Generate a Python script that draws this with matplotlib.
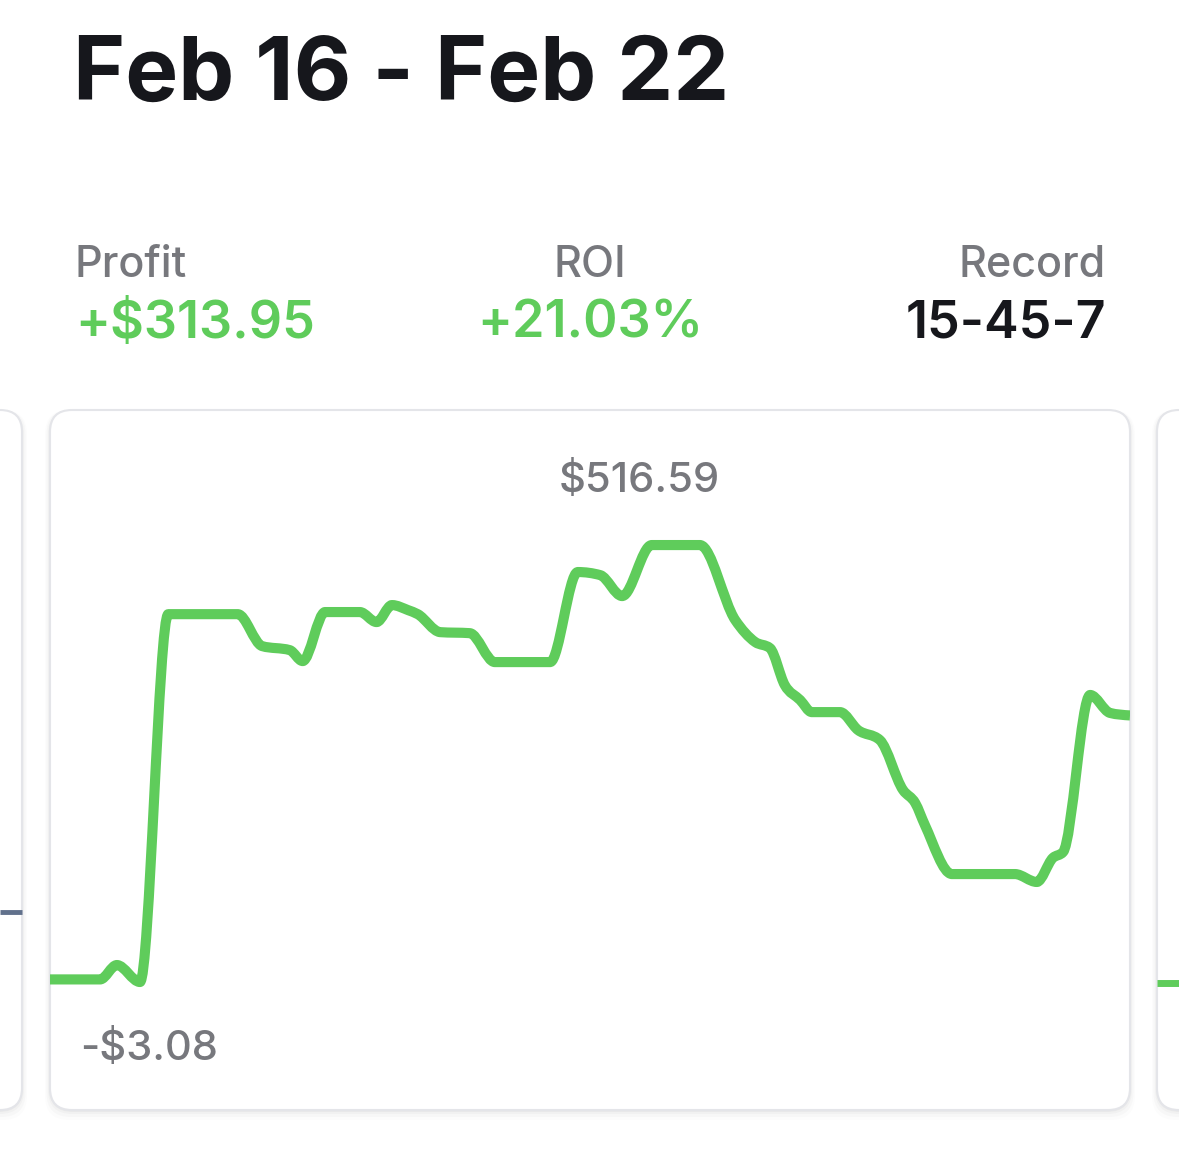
import matplotlib.pyplot as plt
import numpy as np
from matplotlib.path import Path
from matplotlib.patches import FancyBboxPatch, PathPatch

plt.rcParams['font.family'] = ['Inter', 'DejaVu Sans']

# week timeline (hours since Feb 16) and running profit in $
hours = [0, 7.8, 10.4, 14.0, 18.4, 29.2, 33.0, 37.3, 39.3, 42.8, 48.2, 50.8, 53.2,
         55.7, 57.2, 60.7, 65.3, 69.2, 77.8, 82.1, 85.6, 89.0, 93.6, 101.1, 106.6,
         109.7, 112.0, 114.3, 116.7, 118.5, 122.9, 125.7, 129.1, 132.7, 134.6,
         136.1, 140.3, 150.1, 153.5, 156.0, 157.6, 161.8, 164.9, 168]
profit = [0, 0, 17.1, -3.08, 434.4, 434.4, 396.4, 391.6, 378.6, 436.9, 436.9, 425.0,
          445.2, 439.2, 434.4, 413.0, 411.8, 377.4, 377.4, 484.5, 480.8, 455.9, 516.59,
          516.59, 427.3, 401.2, 394.0, 350.0, 332.2, 317.9, 317.9, 296.5, 284.6,
          225.2, 209.7, 183.5, 125.3, 125.3, 115.9, 144.5, 151.6, 338.3, 316.9, 313.95]

title = "Feb 16 - Feb 22"
stat_names = ["Profit", "ROI", "Record"]
stat_values = ["+$313.95", "+21.03%", "15-45-7"]

GREEN = "#5fcc5b"
GRAY = "#77787d"
DARK = "#16171c"


def monotone_path(x, y):
    # monotone cubic (like d3 curveMonotoneX) as bezier segments
    x = np.asarray(x, float)
    y = np.asarray(y, float)
    n = len(x)
    h = np.diff(x)
    s = np.diff(y) / h
    t = np.zeros(n)
    for i in range(1, n - 1):
        p = (s[i - 1] * h[i] + s[i] * h[i - 1]) / (h[i - 1] + h[i])
        t[i] = (np.sign(s[i - 1]) + np.sign(s[i])) * min(abs(s[i - 1]), abs(s[i]), 0.5 * abs(p))
    t[0] = (3 * s[0] - t[1]) / 2 if n > 2 else s[0]
    t[-1] = (3 * s[-1] - t[-2]) / 2 if n > 2 else s[-1]
    verts = [(x[0], y[0])]
    codes = [Path.MOVETO]
    for i in range(n - 1):
        dx = h[i] / 3
        verts += [(x[i] + dx, y[i] + dx * t[i]), (x[i + 1] - dx, y[i + 1] - dx * t[i + 1]),
                  (x[i + 1], y[i + 1])]
        codes += [Path.CURVE4] * 3
    return Path(verts, codes)


W, H = 1179, 1149
fig = plt.figure(figsize=(W / 100, H / 100), dpi=100)
fig.patch.set_facecolor("white")

# background axes in pixel units
bg = fig.add_axes([0, 0, 1, 1])
bg.set_xlim(0, W)
bg.set_ylim(H, 0)
bg.axis("off")


def card(x0, y0, x1, y1):
    for k, a in [(10, 0.012), (7, 0.018), (4, 0.025), (2, 0.03)]:
        bg.add_patch(FancyBboxPatch((x0 - k / 2, y0), x1 - x0 + k, y1 - y0 + k,
                                    boxstyle="round,pad=0,rounding_size=24",
                                    fc="black", ec="none", alpha=a))
    bg.add_patch(FancyBboxPatch((x0, y0), x1 - x0, y1 - y0,
                                boxstyle="round,pad=0,rounding_size=22",
                                fc="white", ec="#e4e5e9", lw=1.5))


card(-1060, 410, 22, 1110)
card(50, 410, 1130, 1110)
card(1157, 410, 2200, 1110)
bg.plot([0, 22], [912, 912], color="#61718c", lw=3.5, solid_capstyle="butt")
bg.plot([1157, 1179], [983, 983], color=GREEN, lw=5, solid_capstyle="butt")

bg.text(73, 100, title, fontsize=64, fontweight="bold", color=DARK, va="baseline")
xs = [75, 590, 1106]
has = ["left", "center", "right"]
for i in range(3):
    bg.text(xs[i], 277, stat_names[i], fontsize=31, fontweight="medium", color=GRAY,
            ha=has[i], va="baseline")
    bg.text(xs[i], 338, stat_values[i], fontsize=37.5, fontweight="semibold",
            color=DARK if i == 2 else GREEN, ha=has[i], va="baseline")

# chart axes covering the middle card
ax = fig.add_axes([50 / W, 1 - 1110 / H, 1080 / W, 700 / H])
ax.axis("off")
ax.set_xlim(0, 168)
ax.set_ylim(-155.3, 677.2)
ax.add_patch(PathPatch(monotone_path(hours, profit), fc="none", ec=GREEN, lw=7.3,
                       capstyle="butt", joinstyle="round"))

ax.text(0.546, 0.883, f"${max(profit):.2f}", transform=ax.transAxes, fontsize=30,
        fontweight="medium", color=GRAY, ha="center", va="baseline")
ax.text(0.028, 0.071, f"-${abs(min(profit)):.2f}", transform=ax.transAxes, fontsize=30,
        fontweight="medium", color=GRAY, ha="left", va="baseline")

fig.savefig("out.png", dpi=100)
